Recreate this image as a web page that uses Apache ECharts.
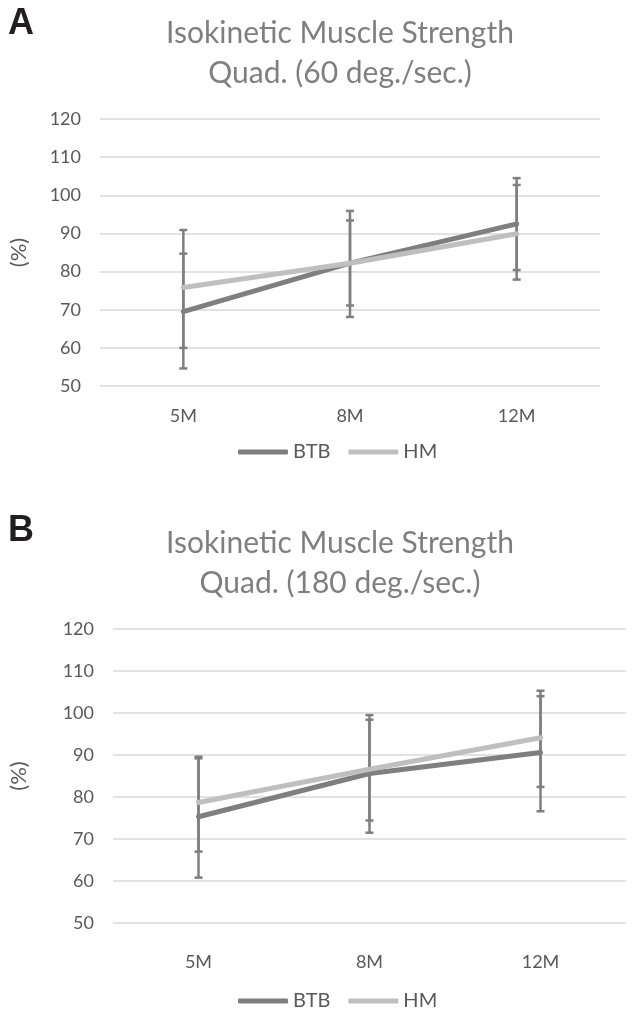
<!DOCTYPE html>
<html>
<head>
<meta charset="utf-8">
<script src="https://cdn.jsdelivr.net/npm/echarts@6/dist/echarts.min.js"></script>
<style>
  html, body { margin: 0; padding: 0; background: #fff; }
  #chart { width: 644px; height: 1013px; }
</style>
</head>
<body>
<div id="chart"></div>
<script>
// categories / ticks
const categories = ["5M", "8M", "12M"];
const yMin = 50, yMax = 120, yStep = 10;

// A: Quad. 60 deg./sec.
const q60BTB = [69.5, 82.2, 92.5];
const q60BTBLow = [54.6, 68.1, 80.4];
const q60BTBHigh = [84.7, 95.9, 104.5];
const q60HM = [75.8, 82.2, 89.9];
const q60HMLow = [60.0, 71.1, 77.9];
const q60HMHigh = [90.9, 93.4, 102.7];

// B: Quad. 180 deg./sec.
const q180BTB = [75.3, 85.6, 90.6];
const q180BTBLow = [60.8, 71.5, 76.6];
const q180BTBHigh = [89.6, 99.5, 104.0];
const q180HM = [78.7, 86.6, 94.1];
const q180HMLow = [67.0, 74.4, 82.4];
const q180HMHigh = [89.2, 98.4, 105.3];

const FONT = "Lato";
const DARK = "#7f7f7f";
const LIGHT = "#bfbfbf";
const TXT = "#595959";

function errData(low, high) {
  return categories.map((c, i) => [i, low[i], high[i]]);
}

// error bar: vertical line and two caps
function renderErr(params, api) {
  const lo = api.coord([api.value(0), api.value(1)]);
  const hi = api.coord([api.value(0), api.value(2)]);
  const w = 4;
  const style = { stroke: DARK, lineWidth: 2.5 };
  return {
    type: "group",
    children: [
      { type: "line", shape: { x1: lo[0], y1: lo[1], x2: hi[0], y2: hi[1] }, style: style },
      { type: "line", shape: { x1: lo[0] - w, y1: lo[1], x2: lo[0] + w, y2: lo[1] }, style: style },
      { type: "line", shape: { x1: hi[0] - w, y1: hi[1], x2: hi[0] + w, y2: hi[1] }, style: style },
    ],
  };
}

function xAxis(gridIndex, margin) {
  return {
    type: "category",
    gridIndex: gridIndex,
    data: categories,
    boundaryGap: true,
    axisLine: { show: false },
    axisTick: { show: false },
    axisLabel: { color: TXT, fontSize: 18, fontFamily: FONT, margin: margin },
  };
}

function yAxis(gridIndex, nameGap) {
  return {
    type: "value",
    gridIndex: gridIndex,
    min: yMin,
    max: yMax,
    interval: yStep,
    name: "(%)",
    nameLocation: "middle",
    nameGap: nameGap,
    nameTextStyle: { color: TXT, fontSize: 22, fontFamily: FONT },
    axisLine: { show: false },
    axisTick: { show: false },
    axisLabel: { color: TXT, fontSize: 18, fontFamily: FONT, margin: 19 },
    splitLine: { lineStyle: { color: "#d9d9d9", width: 1.5 } },
  };
}

function lineSeries(name, data, color, idx) {
  return {
    name: name,
    type: "line",
    xAxisIndex: idx,
    yAxisIndex: idx,
    data: data,
    showSymbol: false,
    symbol: "none",
    z: 3,
    itemStyle: { color: color },
    lineStyle: { color: color, width: 5, cap: "round" },
  };
}

function errSeries(low, high, idx) {
  return {
    type: "custom",
    xAxisIndex: idx,
    yAxisIndex: idx,
    data: errData(low, high),
    renderItem: renderErr,
    z: 2,
    silent: true,
  };
}

const titleStyle = { color: "#7f7f7f", fontSize: 30, fontWeight: "normal", fontFamily: FONT, lineHeight: 40 };
const legendBase = {
  data: ["BTB", "HM"],
  icon: "roundRect",
  itemWidth: 50,
  itemHeight: 5,
  itemGap: 18,
  textStyle: { color: TXT, fontSize: 20, fontFamily: FONT },
};

const option = {
  animation: false,
  backgroundColor: "#fff",
  title: [
    { text: "Isokinetic Muscle Strength\nQuad. (60 deg./sec.)", left: 335, top: 8, textAlign: "center", textStyle: titleStyle },
    { text: "Isokinetic Muscle Strength\nQuad. (180 deg./sec.)", left: 335, top: 518, textAlign: "center", textStyle: titleStyle },
  ],
  graphic: [
    { type: "text", left: 8, top: 6, style: { text: "A", fill: "#231f20", font: "bold 36px 'Liberation Sans'" } },
    { type: "text", left: 8, top: 513, style: { text: "B", fill: "#231f20", font: "bold 36px 'Liberation Sans'" } },
  ],
  legend: [
    Object.assign({ left: 233, top: 437 }, legendBase),
    Object.assign({ left: 233, top: 986 }, legendBase),
  ],
  grid: [
    { left: 100, right: 44, top: 119, height: 267 },
    { left: 113, right: 18, top: 629, height: 294 },
  ],
  xAxis: [xAxis(0, 21), xAxis(1, 30)],
  yAxis: [yAxis(0, 70), yAxis(1, 83)],
  series: [
    errSeries(q60BTBLow, q60BTBHigh, 0),
    errSeries(q60HMLow, q60HMHigh, 0),
    lineSeries("BTB", q60BTB, DARK, 0),
    lineSeries("HM", q60HM, LIGHT, 0),
    errSeries(q180BTBLow, q180BTBHigh, 1),
    errSeries(q180HMLow, q180HMHigh, 1),
    lineSeries("BTB", q180BTB, DARK, 1),
    lineSeries("HM", q180HM, LIGHT, 1),
  ],
};

const chart = echarts.init(document.getElementById("chart"));
chart.setOption(option);
window.addEventListener("resize", () => chart.resize());
</script>
</body>
</html>
